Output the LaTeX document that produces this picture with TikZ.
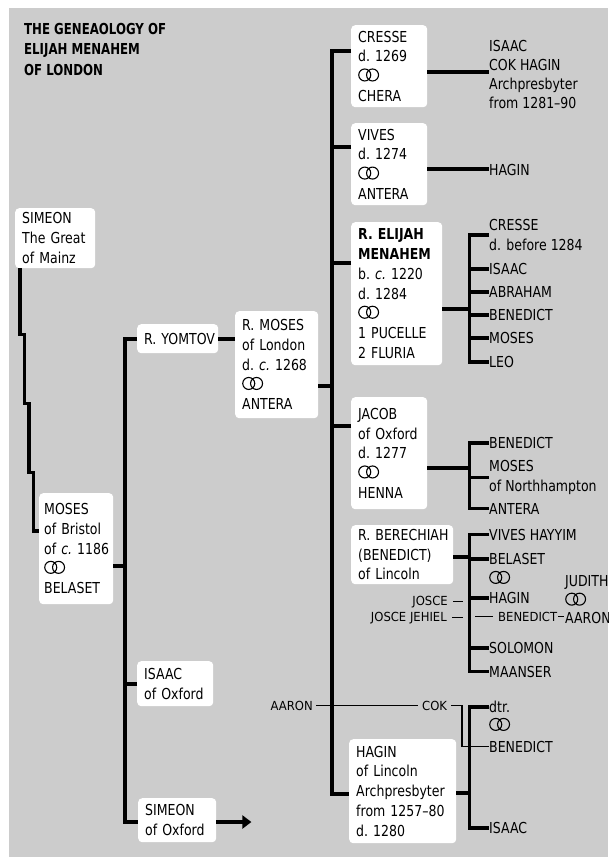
\documentclass[tikz,border=0pt]{standalone}
\usepackage{fontspec}
\setmainfont{DejaVu Sans}[FakeStretch=0.83]
\newfontfamily\titlefont{DejaVu Sans}[FakeStretch=0.78]
\newfontfamily\smallfont{DejaVu Sans}[FakeStretch=0.93]
\usetikzlibrary{arrows.meta}
\definecolor{bg}{RGB}{204,204,204}
\newcommand\mainsz{\fontsize{15.1}{19.75}\selectfont\hyphenpenalty=10000 }
\newcommand\smallsz{\smallfont\fontsize{12.5}{14}\selectfont}
\newcommand\wed{\tikz[baseline=0pt,x=1pt,y=1pt,line width=1.1pt]{\draw (6.6,6.6) circle[radius=6] (14.4,6.6) circle[radius=6];}}
\begin{document}
\begin{tikzpicture}[x=1pt,y=-1pt,
  box/.style={fill=white, rounded corners=4pt, anchor=north west, inner xsep=7pt, inner ysep=0pt, align=left, font=\mainsz},
  lab/.style={anchor=base west, inner sep=0pt, font=\mainsz, align=left},
  small/.style={inner sep=0pt, font=\smallsz},
  thickl/.style={line width=3.6pt, line cap=butt, line join=miter},
  thinl/.style={line width=1.3pt}]
\useasboundingbox (0,0) rectangle (608,857);
\fill[bg] (9,8) rectangle (608,857);

\node[anchor=base west, inner sep=0pt, align=left, font=\titlefont\fontsize{15.1}{20.5}\selectfont\bfseries] (title) at (24,75.3) {THE GENEAOLOGY OF\\ELIJAH MENAHEM\\OF LONDON};

% boxes
\node[box, text width=66pt, minimum height=60pt] (simeonM) at (15,208) {SIMEON\\The~Great\\of~Mainz};
\node[box, inner xsep=5pt, text width=64pt, minimum height=111pt] (mosesB) at (39,493) {MOSES\\of~Bristol\\of~\textit{c.}~1186\\\wed\\BELASET};
\node[box, text width=67pt, minimum height=29pt] (yomtov) at (137,324) {R.~YOMTOV};
\node[box, text width=69pt, minimum height=107pt] (rmoses) at (235,311) {R.~MOSES\\of~London\\d.~\textit{c.}~1268\\\wed\\ANTERA};
\node[box, text width=62pt, minimum height=45pt] (isaacO) at (137,661) {ISAAC\\of~Oxford};
\node[box, text width=64pt, minimum height=44pt] (simeonO) at (138,798) {SIMEON\\of~Oxford};
\node[box, text width=62pt, minimum height=82pt] (cresse) at (351,25) {CRESSE\\d.~1269\\\wed\\CHERA};
\node[box, text width=62pt, minimum height=82pt] (vives) at (351,123) {VIVES\\d.~1274\\\wed\\ANTERA};
\node[box, text width=77pt, minimum height=143pt] (elijah) at (351,222) {\textbf{R.~ELIJAH}\\\textbf{MENAHEM}\\b.~\textit{c.}~1220\\d.~1284\\\wed\\1~PUCELLE\\2~FLURIA};
\node[box, text width=62pt, minimum height=112pt] (jacob) at (351,397) {JACOB\\of~Oxford\\d.~1277\\\wed\\HENNA};
\node[box, text width=88pt, minimum height=59pt] (berech) at (351,525) {R.~BERECHIAH\\(BENEDICT)\\of~Lincoln};
\node[box, text width=93pt, minimum height=104pt] (haginL) at (349,739) {HAGIN\\of~Lincoln\\Archpresbyter\\from~1257--80\\d.~1280};

% free labels (multi-line ones are placed by the baseline of their last line)
\node[lab, font=\fontsize{15.1}{19}\selectfont] (isaacC) at (489,108) {ISAAC\\COK HAGIN\\Archpresbyter\\from 1281--90};
\node[lab] (haginV) at (489,175) {HAGIN};
\node[lab] (ek1) at (489,250.5) {CRESSE\\d. before 1284};
\node[lab] (ek2) at (489,274.5) {ISAAC};
\node[lab] (ek3) at (489,297.5) {ABRAHAM};
\node[lab] (ek4) at (489,320.5) {BENEDICT};
\node[lab] (ek5) at (489,343.5) {MOSES};
\node[lab] (ek6) at (489,367.5) {LEO};
\node[lab] (jk1) at (489,448.5) {BENEDICT};
\node[lab] (jk2) at (489,491.5) {MOSES\\of Northhampton};
\node[lab] (jk3) at (489,514) {ANTERA};
\node[lab] (bk1) at (489,540) {VIVES HAYYIM};
\node[lab] (bk2) at (489,564.5) {BELASET};
\node[lab] (wedB) at (489,584) {\wed};
\node[lab] (bk3) at (489,603.5) {HAGIN};
\node[lab] (bk4) at (489,653.5) {SOLOMON};
\node[lab] (bk5) at (489,677) {MAANSER};
\node[lab] (judith) at (565,605.75) {JUDITH\\\wed};
\node[lab] (aaronR) at (565,623) {AARON};
\node[small, anchor=base west] (benS) at (498,621) {BENEDICT};
\node[small, anchor=base east] (josce) at (448,605) {JOSCE};
\node[small, anchor=base east] (joscej) at (447,621) {JOSCE JEHIEL};
\node[lab] (hk1) at (489,712.5) {dtr.};
\node[lab] (wedH) at (489,731) {\wed};
\node[lab] (benH) at (489,752) {BENEDICT};
\node[lab] (hk3) at (489,833.5) {ISAAC};
\node[small, anchor=base east] (aaronL) at (313,710.3) {AARON};
\node[small, anchor=base west] (cok) at (422,710.3) {COK};

% stair from Simeon of Mainz to Moses
\coordinate (mw) at ([yshift=-38pt]mosesB.north west);
\draw[thickl] ([xshift=5pt]simeonM.south west) -- ++(0,66) -- ++(4.5,0) -- ++(0,69) -- ++(4.5,0) -- ++(0,69) -- ++(4.5,0) |- (mw);

% spine A
\coordinate (spA) at (125,0);
\coordinate (sob) at ([yshift=-24pt]simeonO.north west);
\draw[thickl] (yomtov.west) -- (yomtov.west -| spA) -- (sob -| spA) -- (sob);
\draw[thickl] (isaacO.west) -- (isaacO.west -| spA);
\coordinate (mbe) at ([yshift=-73pt]mosesB.north east);
\draw[thickl] (mbe) -- (mbe -| spA);
\draw[thickl] (yomtov.east) -- (yomtov.east -| rmoses.west);
\coordinate (soe) at ([yshift=-24pt]simeonO.north east);
\draw[thickl,-{Triangle[length=9pt,width=13pt]}] (soe) -- ++(35,0) coordinate (arrowend);

% spine B
\coordinate (spB) at (332,0);
\coordinate (cb) at ([yshift=-26pt]cresse.north west);
\coordinate (hb) at ([yshift=-55pt]haginL.north west);
\draw[thickl] (cb) -- (cb -| spB) -- (hb -| spB) -- (hb);
\coordinate (vb) at ([yshift=-24pt]vives.north west);
\coordinate (eb) at ([yshift=-41pt]elijah.north west);
\coordinate (jb) at ([yshift=-29pt]jacob.north west);
\coordinate (rb) at ([yshift=-75pt]rmoses.north east);
\foreach \c in {vb,eb,jb,rb} \draw[thickl] (\c) -- (\c -| spB);

% Cresse and Vives
\coordinate (cp) at ([yshift=-47pt]cresse.north east);
\draw[thickl] (cp) -- (cp -| isaacC.west);
\coordinate (vp) at ([yshift=-46pt]vives.north east);
\draw[thickl] (vp) -- (vp -| haginV.west);

% children spines
\coordinate (kx) at (469.5,0);
\coordinate (ep) at ([yshift=-87pt]elijah.north east);
\draw[thickl] (ep) -- (ep -| kx);
\draw[thickl] (ek1.west) -- (ek1.west -| kx) -- (ek6.west -| kx) -- (ek6.west);
\foreach \k in {ek2,ek3,ek4,ek5} \draw[thickl] (\k.west -| kx) -- (\k.west);

\coordinate (jp) at ([yshift=-71pt]jacob.north east);
\draw[thickl] (jp) -- (jp -| kx);
\draw[thickl] (jk1.west) -- (jk1.west -| kx) -- (jk3.west -| kx) -- (jk3.west);
\draw[thickl] (jk2.west -| kx) -- (jk2.west);

\coordinate (bp) at ([yshift=-32pt]berech.north east);
\draw[thickl] (bp) -- (bp -| kx);
\draw[thickl] (bk1.west) -- (bk1.west -| kx) -- (bk5.west -| kx) -- (bk5.west);
\foreach \k in {bk2,bk3,bk4} \draw[thickl] (\k.west -| kx) -- (\k.west);

\coordinate (hp) at ([yshift=-54pt]haginL.north east);
\draw[thickl] (hp) -- (hp -| kx);
\draw[thickl] (hk1.west) -- (hk1.west -| kx) -- (hk3.west -| kx) -- (hk3.west);

% thin connectors
\draw[thinl] ([xshift=3pt]aaronL.east) -- ([xshift=-4pt]cok.west);
\draw[thinl] ([xshift=4pt]cok.east) -| ([xshift=-27pt]benH.west) -- (benH.west);
\draw[thinl] ([xshift=5pt]josce.east) -- ++(10,0);
\draw[thinl] ([xshift=5pt]joscej.east) -- ++(11,0);
\draw[thinl] ([xshift=-5pt]benS.west) -- ++(-18,0);
\draw[line width=1.6pt] ([xshift=1pt]benS.east) -- ([xshift=-1pt]benS.east -| aaronR.west);
\end{tikzpicture}
\end{document}
